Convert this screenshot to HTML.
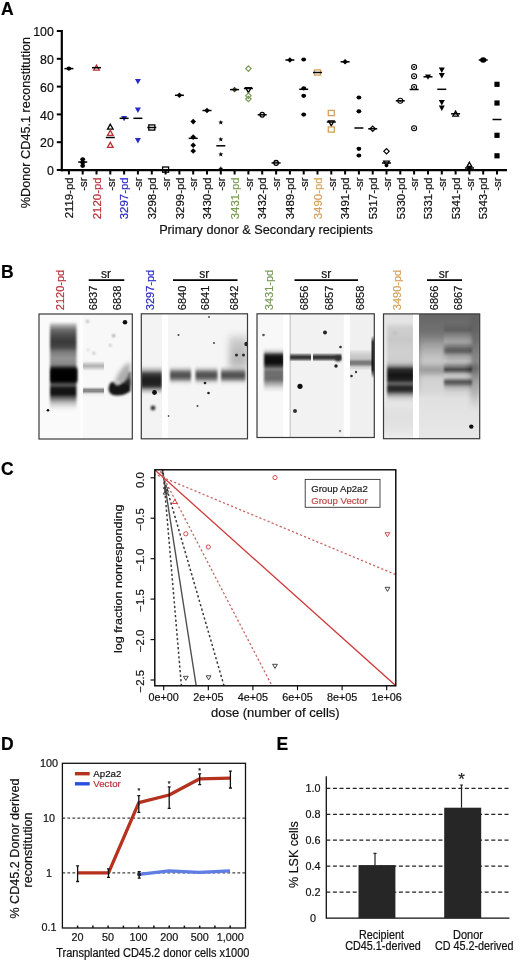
<!DOCTYPE html>
<html><head><meta charset="utf-8"><style>
html,body{margin:0;padding:0;background:#fff;}
svg{display:block;filter:blur(0.35px);}
text{font-family:"Liberation Sans", sans-serif;}
</style></head><body>
<svg width="520" height="962" viewBox="0 0 520 962" font-family='"Liberation Sans", sans-serif'>
<rect width="520" height="962" fill="#fff"/>
<text x="1" y="14.8" font-size="17.5" font-weight="bold" stroke="#000" stroke-width="0.2">A</text>
<text x="0.9" y="277.9" font-size="17.5" font-weight="bold" stroke="#000" stroke-width="0.2">B</text>
<text x="1" y="475.2" font-size="17.5" font-weight="bold" stroke="#000" stroke-width="0.2">C</text>
<text x="1" y="750.4" font-size="17.5" font-weight="bold" stroke="#000" stroke-width="0.2">D</text>
<text x="276.6" y="750.4" font-size="17.5" font-weight="bold" stroke="#000" stroke-width="0.2">E</text>
<g stroke="#000" stroke-width="2.2" fill="none">
<path d="M61.8 30 V171.3"/>
<path d="M60.7 170.2 H507"/>
</g>
<g stroke="#000" stroke-width="2" fill="none">
<path d="M56.8 170.0 H61"/>
<path d="M56.8 142.2 H61"/>
<path d="M56.8 114.4 H61"/>
<path d="M56.8 86.6 H61"/>
<path d="M56.8 58.8 H61"/>
<path d="M56.8 31.0 H61"/>
<path d="M68.9 170 V174.5"/>
<path d="M82.7 170 V174.5"/>
<path d="M96.5 170 V174.5"/>
<path d="M110.3 170 V174.5"/>
<path d="M124.1 170 V174.5"/>
<path d="M137.9 170 V174.5"/>
<path d="M151.8 170 V174.5"/>
<path d="M165.6 170 V174.5"/>
<path d="M179.4 170 V174.5"/>
<path d="M193.2 170 V174.5"/>
<path d="M207.0 170 V174.5"/>
<path d="M220.8 170 V174.5"/>
<path d="M234.6 170 V174.5"/>
<path d="M248.4 170 V174.5"/>
<path d="M262.2 170 V174.5"/>
<path d="M276.1 170 V174.5"/>
<path d="M289.9 170 V174.5"/>
<path d="M303.7 170 V174.5"/>
<path d="M317.5 170 V174.5"/>
<path d="M331.3 170 V174.5"/>
<path d="M345.1 170 V174.5"/>
<path d="M358.9 170 V174.5"/>
<path d="M372.7 170 V174.5"/>
<path d="M386.5 170 V174.5"/>
<path d="M400.3 170 V174.5"/>
<path d="M414.1 170 V174.5"/>
<path d="M428.0 170 V174.5"/>
<path d="M441.8 170 V174.5"/>
<path d="M455.6 170 V174.5"/>
<path d="M469.4 170 V174.5"/>
<path d="M483.2 170 V174.5"/>
<path d="M497.0 170 V174.5"/>
</g>
<g font-size="12.3" text-anchor="end" fill="#111">
<text x="53.8" y="175.2" stroke="#000" stroke-width="0.2">0</text>
<text x="53.8" y="147.4" stroke="#000" stroke-width="0.2">20</text>
<text x="53.8" y="119.6" stroke="#000" stroke-width="0.2">40</text>
<text x="53.8" y="91.8" stroke="#000" stroke-width="0.2">60</text>
<text x="53.8" y="64.0" stroke="#000" stroke-width="0.2">80</text>
<text x="53.8" y="36.2" stroke="#000" stroke-width="0.2">100</text>
</g>
<text transform="translate(30,122.6) rotate(-90)" font-size="12.7" text-anchor="middle" fill="#111" stroke="#111" stroke-width="0.2">%Donor CD45.1 reconstitution</text>
<g font-size="11.4">
<text transform="translate(73.1,177.4) rotate(-90)" text-anchor="end" fill="#111" stroke="#111" stroke-width="0.2">2119-pd</text>
<text transform="translate(86.9,177.4) rotate(-90)" text-anchor="end" fill="#111" stroke="#111" stroke-width="0.2">-sr</text>
<text transform="translate(100.7,177.4) rotate(-90)" text-anchor="end" fill="#b8323a" stroke="#b8323a" stroke-width="0.2">2120-pd</text>
<text transform="translate(114.5,177.4) rotate(-90)" text-anchor="end" fill="#111" stroke="#111" stroke-width="0.2">-sr</text>
<text transform="translate(128.3,177.4) rotate(-90)" text-anchor="end" fill="#2a2ac4" stroke="#2a2ac4" stroke-width="0.2">3297-pd</text>
<text transform="translate(142.1,177.4) rotate(-90)" text-anchor="end" fill="#111" stroke="#111" stroke-width="0.2">-sr</text>
<text transform="translate(156.0,177.4) rotate(-90)" text-anchor="end" fill="#111" stroke="#111" stroke-width="0.2">3298-pd</text>
<text transform="translate(169.8,177.4) rotate(-90)" text-anchor="end" fill="#111" stroke="#111" stroke-width="0.2">-sr</text>
<text transform="translate(183.6,177.4) rotate(-90)" text-anchor="end" fill="#111" stroke="#111" stroke-width="0.2">3299-pd</text>
<text transform="translate(197.4,177.4) rotate(-90)" text-anchor="end" fill="#111" stroke="#111" stroke-width="0.2">-sr</text>
<text transform="translate(211.2,177.4) rotate(-90)" text-anchor="end" fill="#111" stroke="#111" stroke-width="0.2">3430-pd</text>
<text transform="translate(225.0,177.4) rotate(-90)" text-anchor="end" fill="#111" stroke="#111" stroke-width="0.2">-sr</text>
<text transform="translate(238.8,177.4) rotate(-90)" text-anchor="end" fill="#7a9a56" stroke="#7a9a56" stroke-width="0.2">3431-pd</text>
<text transform="translate(252.6,177.4) rotate(-90)" text-anchor="end" fill="#111" stroke="#111" stroke-width="0.2">-sr</text>
<text transform="translate(266.4,177.4) rotate(-90)" text-anchor="end" fill="#111" stroke="#111" stroke-width="0.2">3432-pd</text>
<text transform="translate(280.2,177.4) rotate(-90)" text-anchor="end" fill="#111" stroke="#111" stroke-width="0.2">-sr</text>
<text transform="translate(294.1,177.4) rotate(-90)" text-anchor="end" fill="#111" stroke="#111" stroke-width="0.2">3489-pd</text>
<text transform="translate(307.9,177.4) rotate(-90)" text-anchor="end" fill="#111" stroke="#111" stroke-width="0.2">-sr</text>
<text transform="translate(321.7,177.4) rotate(-90)" text-anchor="end" fill="#d6a05c" stroke="#d6a05c" stroke-width="0.2">3490-pd</text>
<text transform="translate(335.5,177.4) rotate(-90)" text-anchor="end" fill="#111" stroke="#111" stroke-width="0.2">-sr</text>
<text transform="translate(349.3,177.4) rotate(-90)" text-anchor="end" fill="#111" stroke="#111" stroke-width="0.2">3491-pd</text>
<text transform="translate(363.1,177.4) rotate(-90)" text-anchor="end" fill="#111" stroke="#111" stroke-width="0.2">-sr</text>
<text transform="translate(376.9,177.4) rotate(-90)" text-anchor="end" fill="#111" stroke="#111" stroke-width="0.2">5317-pd</text>
<text transform="translate(390.7,177.4) rotate(-90)" text-anchor="end" fill="#111" stroke="#111" stroke-width="0.2">-sr</text>
<text transform="translate(404.5,177.4) rotate(-90)" text-anchor="end" fill="#111" stroke="#111" stroke-width="0.2">5330-pd</text>
<text transform="translate(418.3,177.4) rotate(-90)" text-anchor="end" fill="#111" stroke="#111" stroke-width="0.2">-sr</text>
<text transform="translate(432.2,177.4) rotate(-90)" text-anchor="end" fill="#111" stroke="#111" stroke-width="0.2">5331-pd</text>
<text transform="translate(446.0,177.4) rotate(-90)" text-anchor="end" fill="#111" stroke="#111" stroke-width="0.2">-sr</text>
<text transform="translate(459.8,177.4) rotate(-90)" text-anchor="end" fill="#111" stroke="#111" stroke-width="0.2">5341-pd</text>
<text transform="translate(473.6,177.4) rotate(-90)" text-anchor="end" fill="#111" stroke="#111" stroke-width="0.2">-sr</text>
<text transform="translate(487.4,177.4) rotate(-90)" text-anchor="end" fill="#111" stroke="#111" stroke-width="0.2">5343-pd</text>
<text transform="translate(501.2,177.4) rotate(-90)" text-anchor="end" fill="#111" stroke="#111" stroke-width="0.2">-sr</text>
</g>
<text x="266" y="234.1" font-size="12.7" text-anchor="middle" fill="#111" stroke="#111" stroke-width="0.2">Primary donor &amp; Secondary recipients</text>
<g>
<ellipse cx="68.9" cy="68.6" rx="2.4" ry="2.1" fill="#000"/>
<path d="M64.4 68.6 H73.4" stroke="#000" stroke-width="1.5"/>
<ellipse cx="82.7" cy="159.3" rx="2.4" ry="2.1" fill="#000"/>
<ellipse cx="82.7" cy="162.5" rx="2.4" ry="2.1" fill="#000"/>
<ellipse cx="82.7" cy="165.8" rx="2.4" ry="2.1" fill="#000"/>
<path d="M78.2 162.0 H87.2" stroke="#000" stroke-width="1.5"/>
<path d="M96.5 65.1 L99.3 70.1 L93.7 70.1Z" fill="none" stroke="#b8323a" stroke-width="1.3"/>
<path d="M92.0 67.7 H101.0" stroke="#000" stroke-width="1.5"/>
<path d="M105.8 137.5 H114.8" stroke="#000" stroke-width="1.5"/>
<path d="M124.1 121.3 L127.1 115.9 L121.1 115.9Z" fill="#2a2ac4"/>
<path d="M119.6 118.3 H128.6" stroke="#000" stroke-width="1.5"/>
<path d="M137.9 84.3 L140.9 78.9 L134.9 78.9Z" fill="#2a2ac4"/>
<path d="M137.9 113.0 L140.9 107.6 L134.9 107.6Z" fill="#2a2ac4"/>
<path d="M137.9 143.5 L140.9 138.1 L134.9 138.1Z" fill="#2a2ac4"/>
<path d="M133.4 118.3 H142.4" stroke="#000" stroke-width="1.5"/>
<rect x="148.8" y="124.9" width="6" height="5.2" fill="none" stroke="#000" stroke-width="1.3"/>
<path d="M147.3 127.5 H156.3" stroke="#000" stroke-width="1.5"/>
<rect x="162.6" y="167.0" width="6" height="5.2" fill="none" stroke="#000" stroke-width="1.3"/>
<path d="M161.1 169.8 H170.1" stroke="#000" stroke-width="1.5"/>
<path d="M179.4 92.5 L182.2 95.3 L179.4 98.1 L176.6 95.3Z" fill="#000"/>
<path d="M174.9 95.3 H183.9" stroke="#000" stroke-width="1.5"/>
<path d="M193.2 118.8 L196.0 121.6 L193.2 124.4 L190.4 121.6Z" fill="#000"/>
<path d="M193.2 134.3 L196.0 137.1 L193.2 139.9 L190.4 137.1Z" fill="#000"/>
<path d="M193.2 142.4 L196.0 145.2 L193.2 148.0 L190.4 145.2Z" fill="#000"/>
<path d="M193.2 148.2 L196.0 151.0 L193.2 153.8 L190.4 151.0Z" fill="#000"/>
<path d="M188.7 138.3 H197.7" stroke="#000" stroke-width="1.5"/>
<path d="M207.0 107.7 L209.8 110.5 L207.0 113.3 L204.2 110.5Z" fill="#000"/>
<path d="M202.5 110.5 H211.5" stroke="#000" stroke-width="1.5"/>
<polygon points="220.81,119.90 221.46,121.61 223.28,121.70 221.86,122.84 222.34,124.60 220.81,123.60 219.28,124.60 219.76,122.84 218.34,121.70 220.16,121.61" fill="#000"/>
<polygon points="220.81,136.70 221.46,138.41 223.28,138.50 221.86,139.64 222.34,141.40 220.81,140.40 219.28,141.40 219.76,139.64 218.34,138.50 220.16,138.41" fill="#000"/>
<polygon points="220.81,151.70 221.46,153.41 223.28,153.50 221.86,154.64 222.34,156.40 220.81,155.40 219.28,156.40 219.76,154.64 218.34,153.50 220.16,153.41" fill="#000"/>
<polygon points="220.81,166.10 221.46,167.81 223.28,167.90 221.86,169.04 222.34,170.80 220.81,169.80 219.28,170.80 219.76,169.04 218.34,167.90 220.16,167.81" fill="#000"/>
<path d="M216.3 145.8 H225.3" stroke="#000" stroke-width="1.5"/>
<path d="M234.6 86.8 L237.4 89.6 L234.6 92.4 L231.8 89.6Z" fill="#3d4a1c"/>
<path d="M230.1 89.6 H239.1" stroke="#000" stroke-width="1.5"/>
<path d="M243.9 88.5 H252.9" stroke="#000" stroke-width="1.5"/>
<ellipse cx="262.2" cy="114.8" rx="2.2" ry="2.4" fill="none" stroke="#000" stroke-width="1.3"/>
<path d="M257.7 114.8 H266.7" stroke="#000" stroke-width="1.5"/>
<ellipse cx="276.1" cy="162.9" rx="2.2" ry="2.4" fill="none" stroke="#000" stroke-width="1.3"/>
<path d="M271.6 162.9 H280.6" stroke="#000" stroke-width="1.5"/>
<path d="M289.9 57.2 L292.7 60.0 L289.9 62.8 L287.1 60.0Z" fill="#000"/>
<path d="M285.4 60.0 H294.4" stroke="#000" stroke-width="1.5"/>
<ellipse cx="303.7" cy="59.5" rx="2.4" ry="2.1" fill="#000"/>
<ellipse cx="303.7" cy="88.3" rx="2.4" ry="2.1" fill="#000"/>
<ellipse cx="303.7" cy="95.8" rx="2.4" ry="2.1" fill="#000"/>
<ellipse cx="303.7" cy="114.6" rx="2.4" ry="2.1" fill="#000"/>
<path d="M299.2 89.3 H308.2" stroke="#000" stroke-width="1.5"/>
<rect x="314.5" y="69.9" width="6" height="5.2" fill="none" stroke="#d6a05c" stroke-width="1.3"/>
<path d="M313.0 72.5 H322.0" stroke="#000" stroke-width="1.5"/>
<path d="M326.8 122.0 H335.8" stroke="#000" stroke-width="1.5"/>
<path d="M345.1 59.0 L347.9 61.8 L345.1 64.6 L342.3 61.8Z" fill="#000"/>
<path d="M340.6 61.8 H349.6" stroke="#000" stroke-width="1.5"/>
<ellipse cx="358.9" cy="97.5" rx="2.4" ry="2.1" fill="#000"/>
<ellipse cx="358.9" cy="111.3" rx="2.4" ry="2.1" fill="#000"/>
<ellipse cx="358.9" cy="148.8" rx="2.4" ry="2.1" fill="#000"/>
<ellipse cx="358.9" cy="155.5" rx="2.4" ry="2.1" fill="#000"/>
<path d="M354.4 128.0 H363.4" stroke="#000" stroke-width="1.5"/>
<path d="M372.7 126.1 L375.4 128.8 L372.7 131.5 L370.0 128.8Z" fill="none" stroke="#000" stroke-width="1.2"/>
<path d="M368.2 128.8 H377.2" stroke="#000" stroke-width="1.5"/>
<path d="M382.0 163.0 H391.0" stroke="#000" stroke-width="1.5"/>
<circle cx="400.3" cy="100.8" r="2.5" fill="none" stroke="#000" stroke-width="1.1"/><circle cx="400.3" cy="100.8" r="0.9" fill="#000"/>
<path d="M395.8 100.8 H404.8" stroke="#000" stroke-width="1.5"/>
<circle cx="414.1" cy="67.0" r="2.5" fill="none" stroke="#000" stroke-width="1.1"/><circle cx="414.1" cy="67.0" r="0.9" fill="#000"/>
<circle cx="414.1" cy="76.3" r="2.5" fill="none" stroke="#000" stroke-width="1.1"/><circle cx="414.1" cy="76.3" r="0.9" fill="#000"/>
<circle cx="414.1" cy="87.0" r="2.5" fill="none" stroke="#000" stroke-width="1.1"/><circle cx="414.1" cy="87.0" r="0.9" fill="#000"/>
<circle cx="414.1" cy="128.3" r="2.5" fill="none" stroke="#000" stroke-width="1.1"/><circle cx="414.1" cy="128.3" r="0.9" fill="#000"/>
<path d="M409.6 89.5 H418.6" stroke="#000" stroke-width="1.5"/>
<path d="M428.0 79.8 L431.0 74.4 L425.0 74.4Z" fill="#000"/>
<path d="M423.5 76.8 H432.5" stroke="#000" stroke-width="1.5"/>
<path d="M441.8 73.0 L444.8 67.6 L438.8 67.6Z" fill="#000"/>
<path d="M441.8 78.5 L444.8 73.1 L438.8 73.1Z" fill="#000"/>
<path d="M441.8 105.5 L444.8 100.1 L438.8 100.1Z" fill="#000"/>
<path d="M441.8 111.0 L444.8 105.6 L438.8 105.6Z" fill="#000"/>
<path d="M437.3 89.3 H446.3" stroke="#000" stroke-width="1.5"/>
<path d="M455.6 111.1 L458.4 116.1 L452.8 116.1Z" fill="none" stroke="#000" stroke-width="1.3"/>
<path d="M451.1 113.8 H460.1" stroke="#000" stroke-width="1.5"/>
<path d="M464.9 168.0 H473.9" stroke="#000" stroke-width="1.5"/>
<ellipse cx="483.2" cy="60.0" rx="2.4" ry="2.1" fill="#000"/>
<path d="M478.7 60.0 H487.7" stroke="#000" stroke-width="1.5"/>
<rect x="494.4" y="81.7" width="5.2" height="5.2" fill="#000"/>
<rect x="494.4" y="100.4" width="5.2" height="5.2" fill="#000"/>
<rect x="494.4" y="132.7" width="5.2" height="5.2" fill="#000"/>
<rect x="494.4" y="153.2" width="5.2" height="5.2" fill="#000"/>
<path d="M492.5 119.5 H501.5" stroke="#000" stroke-width="1.5"/>
<path d="M110.3 124.2 L113.1 129.2 L107.5 129.2Z" fill="none" stroke="#000" stroke-width="1.3"/>
<path d="M110.3 130.4 L113.1 135.4 L107.5 135.4Z" fill="none" stroke="#b8323a" stroke-width="1.3"/>
<path d="M110.3 142.4 L113.1 147.4 L107.5 147.4Z" fill="none" stroke="#b8323a" stroke-width="1.3"/>
<path d="M248.4 65.9 L251.1 68.6 L248.4 71.3 L245.7 68.6Z" fill="none" stroke="#7a9a56" stroke-width="1.2"/>
<path d="M248.4 92.6 L251.2 87.6 L245.6 87.6Z" fill="none" stroke="#000" stroke-width="1.3"/>
<path d="M248.4 93.1 L251.1 95.8 L248.4 98.5 L245.7 95.8Z" fill="none" stroke="#7a9a56" stroke-width="1.2"/>
<path d="M248.4 96.3 L251.1 99.0 L248.4 101.7 L245.7 99.0Z" fill="none" stroke="#7a9a56" stroke-width="1.2"/>
<rect x="328.3" y="110.4" width="6" height="5.2" fill="none" stroke="#d6a05c" stroke-width="1.3"/>
<path d="M331.3 125.8 L334.1 120.8 L328.5 120.8Z" fill="none" stroke="#000" stroke-width="1.3"/>
<rect x="328.3" y="126.9" width="6" height="5.2" fill="none" stroke="#d6a05c" stroke-width="1.3"/>
<path d="M386.5 148.6 L389.2 151.3 L386.5 154.0 L383.8 151.3Z" fill="none" stroke="#000" stroke-width="1.2"/>
<path d="M386.5 166.1 L389.3 161.1 L383.7 161.1Z" fill="none" stroke="#000" stroke-width="1.3"/>
<ellipse cx="386.5" cy="165.5" rx="1.9" ry="1.7" fill="#000"/>
<ellipse cx="483.2" cy="60.0" rx="3.1" ry="2.7" fill="#000"/>
<path d="M469.4 162.2 L471.8 166.5 L467.0 166.5Z" fill="none" stroke="#000" stroke-width="1.3"/>
<ellipse cx="469.4" cy="168.6" rx="2.2" ry="1.9" fill="#000"/>
</g>
<defs><filter id="b1" x="-50%" y="-50%" width="200%" height="200%"><feGaussianBlur stdDeviation="1.2"/></filter><filter id="b2" x="-50%" y="-50%" width="200%" height="200%"><feGaussianBlur stdDeviation="2"/></filter><filter id="b3" x="-50%" y="-50%" width="200%" height="200%"><feGaussianBlur stdDeviation="3"/></filter><filter id="b05" x="-50%" y="-50%" width="200%" height="200%"><feGaussianBlur stdDeviation="0.6"/></filter></defs>
<defs><clipPath id="cb0"><rect x="39" y="314" width="93.30000000000001" height="125"/></clipPath></defs>
<defs><clipPath id="cb1"><rect x="141.3" y="313.8" width="106.19999999999999" height="125.0"/></clipPath></defs>
<defs><clipPath id="cb2"><rect x="257" y="313.8" width="117.30000000000001" height="123.69999999999999"/></clipPath></defs>
<defs><clipPath id="cb3"><rect x="383.5" y="313.9" width="96.19999999999999" height="124.80000000000001"/></clipPath></defs>
<g clip-path="url(#cb0)">
<rect x="39" y="314" width="41" height="125" fill="#fafafa"/>
<rect x="82.5" y="314" width="51" height="125" fill="#f8f8f8"/>
<defs><linearGradient id="g1" gradientUnits="userSpaceOnUse" x1="0" y1="322" x2="0" y2="412"><stop offset="0.0000" stop-color="#000" stop-opacity="0.000"/><stop offset="0.0333" stop-color="#000" stop-opacity="0.290"/><stop offset="0.0889" stop-color="#000" stop-opacity="0.573"/><stop offset="0.1556" stop-color="#000" stop-opacity="0.702"/><stop offset="0.2222" stop-color="#000" stop-opacity="0.774"/><stop offset="0.2778" stop-color="#000" stop-opacity="0.726"/><stop offset="0.3333" stop-color="#000" stop-opacity="0.508"/><stop offset="0.4000" stop-color="#000" stop-opacity="0.411"/><stop offset="0.4667" stop-color="#000" stop-opacity="0.444"/><stop offset="0.5111" stop-color="#000" stop-opacity="0.726"/><stop offset="0.5444" stop-color="#000" stop-opacity="0.960"/><stop offset="0.6444" stop-color="#000" stop-opacity="0.960"/><stop offset="0.6833" stop-color="#000" stop-opacity="0.702"/><stop offset="0.7056" stop-color="#000" stop-opacity="0.637"/><stop offset="0.7333" stop-color="#000" stop-opacity="0.915"/><stop offset="0.8000" stop-color="#000" stop-opacity="0.935"/><stop offset="0.8444" stop-color="#000" stop-opacity="0.573"/><stop offset="0.9000" stop-color="#000" stop-opacity="0.226"/><stop offset="0.9556" stop-color="#000" stop-opacity="0.040"/><stop offset="1.0000" stop-color="#000" stop-opacity="0.000"/></linearGradient></defs>
<rect x="50" y="322" width="26.5" height="90" fill="url(#g1)" filter="url(#b1)"/>
<defs><linearGradient id="g2" gradientUnits="userSpaceOnUse" x1="0" y1="366" x2="0" y2="384"><stop offset="0.0000" stop-color="#000" stop-opacity="0.000"/><stop offset="0.2222" stop-color="#000" stop-opacity="0.863"/><stop offset="0.7778" stop-color="#000" stop-opacity="0.863"/><stop offset="1.0000" stop-color="#000" stop-opacity="0.000"/></linearGradient></defs>
<rect x="51" y="366" width="26.5" height="18" fill="url(#g2)" filter="url(#b1)"/>
<defs><linearGradient id="g3" gradientUnits="userSpaceOnUse" x1="0" y1="361" x2="0" y2="397"><stop offset="0.0000" stop-color="#000" stop-opacity="0.000"/><stop offset="0.0833" stop-color="#000" stop-opacity="0.194"/><stop offset="0.1389" stop-color="#000" stop-opacity="0.290"/><stop offset="0.1944" stop-color="#000" stop-opacity="0.177"/><stop offset="0.2778" stop-color="#000" stop-opacity="0.000"/><stop offset="0.7222" stop-color="#000" stop-opacity="0.000"/><stop offset="0.7917" stop-color="#000" stop-opacity="0.444"/><stop offset="0.8472" stop-color="#000" stop-opacity="0.452"/><stop offset="0.9167" stop-color="#000" stop-opacity="0.048"/><stop offset="1.0000" stop-color="#000" stop-opacity="0.000"/></linearGradient></defs>
<rect x="83" y="361" width="21" height="36" fill="url(#g3)" filter="url(#b05)"/>
<path d="M114 384 L118 374 L124 366 L130 362 L131 388 L118 388 Z" fill="#000" fill-opacity="0.3" filter="url(#b2)"/>
<path d="M108.5 389 Q109 383 112 382 Q117 384 121 384 Q126 382 129.5 378 L130.5 391 Q124 396 116 395.5 Q109 395 108.5 389 Z" fill="#181818" filter="url(#b1)"/>
<ellipse cx="117.5" cy="383.5" rx="3" ry="2.2" fill="#fff" fill-opacity="0.55" filter="url(#b1)"/>
<path d="M124 384 Q127 378 129 372 L131 372 L131 386 Z" fill="#333" fill-opacity="0.6" filter="url(#b1)"/>
<circle cx="125" cy="322.3" r="2.3" fill="#111" filter="url(#b05)"/>
<circle cx="48" cy="410.2" r="1.3" fill="#111" filter="url(#b05)"/>
<circle cx="113.6" cy="335.8" r="1.3" fill="#777" filter="url(#b1)"/>
<circle cx="110.2" cy="345.3" r="1.1" fill="#999" filter="url(#b1)"/>
<circle cx="87.4" cy="321.5" r="1.4" fill="#aaa" filter="url(#b1)"/>
<circle cx="93.8" cy="353.2" r="1.4" fill="#bbb" filter="url(#b1)"/>
<circle cx="88" cy="350" r="1.2" fill="#ccc" filter="url(#b1)"/>
</g>
<rect x="80" y="314" width="2.5" height="125" fill="#fdfdfd"/>
<g clip-path="url(#cb1)">
<rect x="141" y="313" width="21" height="126" fill="#f3f3f3"/>
<rect x="167.5" y="313" width="81" height="126" fill="#f5f5f5"/>
<defs><linearGradient id="g4" gradientUnits="userSpaceOnUse" x1="0" y1="366" x2="0" y2="394"><stop offset="0.0000" stop-color="#000" stop-opacity="0.020"/><stop offset="0.1429" stop-color="#000" stop-opacity="0.246"/><stop offset="0.2857" stop-color="#000" stop-opacity="0.758"/><stop offset="0.5000" stop-color="#000" stop-opacity="0.895"/><stop offset="0.7143" stop-color="#000" stop-opacity="0.831"/><stop offset="0.8571" stop-color="#000" stop-opacity="0.270"/><stop offset="1.0000" stop-color="#000" stop-opacity="0.020"/></linearGradient></defs>
<rect x="141" y="366" width="21" height="28" fill="url(#g4)" filter="url(#b1)"/>
<circle cx="154.5" cy="392.5" r="2.4" fill="#111" filter="url(#b05)"/>
<circle cx="153" cy="408" r="2.4" fill="#333" filter="url(#b1)"/>
<defs><linearGradient id="g5" gradientUnits="userSpaceOnUse" x1="0" y1="366" x2="0" y2="385"><stop offset="0.0000" stop-color="#000" stop-opacity="0.012"/><stop offset="0.1579" stop-color="#000" stop-opacity="0.165"/><stop offset="0.3158" stop-color="#000" stop-opacity="0.565"/><stop offset="0.5000" stop-color="#000" stop-opacity="0.702"/><stop offset="0.6842" stop-color="#000" stop-opacity="0.520"/><stop offset="0.8421" stop-color="#000" stop-opacity="0.113"/><stop offset="1.0000" stop-color="#000" stop-opacity="0.012"/></linearGradient></defs>
<rect x="170" y="366" width="21" height="19" fill="url(#g5)" filter="url(#b1)"/>
<defs><linearGradient id="g6" gradientUnits="userSpaceOnUse" x1="0" y1="366" x2="0" y2="385"><stop offset="0.0000" stop-color="#000" stop-opacity="0.012"/><stop offset="0.1579" stop-color="#000" stop-opacity="0.165"/><stop offset="0.3158" stop-color="#000" stop-opacity="0.565"/><stop offset="0.5000" stop-color="#000" stop-opacity="0.702"/><stop offset="0.6842" stop-color="#000" stop-opacity="0.520"/><stop offset="0.8421" stop-color="#000" stop-opacity="0.113"/><stop offset="1.0000" stop-color="#000" stop-opacity="0.012"/></linearGradient></defs>
<rect x="195.5" y="366" width="22.0" height="19" fill="url(#g6)" filter="url(#b1)"/>
<defs><linearGradient id="g7" gradientUnits="userSpaceOnUse" x1="0" y1="366" x2="0" y2="385"><stop offset="0.0000" stop-color="#000" stop-opacity="0.012"/><stop offset="0.1579" stop-color="#000" stop-opacity="0.165"/><stop offset="0.3158" stop-color="#000" stop-opacity="0.565"/><stop offset="0.5000" stop-color="#000" stop-opacity="0.702"/><stop offset="0.6842" stop-color="#000" stop-opacity="0.520"/><stop offset="0.8421" stop-color="#000" stop-opacity="0.113"/><stop offset="1.0000" stop-color="#000" stop-opacity="0.012"/></linearGradient></defs>
<rect x="221" y="366" width="24.5" height="19" fill="url(#g7)" filter="url(#b1)"/>
<defs><linearGradient id="g8" gradientUnits="userSpaceOnUse" x1="0" y1="333" x2="0" y2="369"><stop offset="0.0000" stop-color="#000" stop-opacity="0.012"/><stop offset="0.1944" stop-color="#000" stop-opacity="0.161"/><stop offset="0.5278" stop-color="#000" stop-opacity="0.226"/><stop offset="0.9167" stop-color="#000" stop-opacity="0.246"/><stop offset="1.0000" stop-color="#000" stop-opacity="0.012"/></linearGradient></defs>
<rect x="229" y="333" width="19" height="36" fill="url(#g8)" filter="url(#b3)"/>
<circle cx="236.5" cy="355" r="1.6" fill="#333" filter="url(#b05)"/>
<circle cx="243.5" cy="355" r="1.6" fill="#333" filter="url(#b05)"/>
<circle cx="246.5" cy="344" r="2.2" fill="#222" filter="url(#b05)"/>
<circle cx="178.5" cy="335" r="1" fill="#444" filter="url(#b05)"/>
<circle cx="214" cy="343" r="1" fill="#444" filter="url(#b05)"/>
<circle cx="205" cy="383" r="1.3" fill="#222" filter="url(#b05)"/>
<circle cx="208.5" cy="393" r="1.3" fill="#222" filter="url(#b05)"/>
<circle cx="197.5" cy="406" r="1" fill="#444" filter="url(#b05)"/>
<circle cx="168.5" cy="416" r="0.9" fill="#555" filter="url(#b05)"/>
<circle cx="209" cy="317" r="1" fill="#555" filter="url(#b05)"/>
</g>
<rect x="162" y="314" width="5.5" height="124.5" fill="#fff"/>
<g clip-path="url(#cb2)">
<rect x="257" y="313" width="27" height="126" fill="#f8f8f8"/>
<rect x="289.5" y="313" width="55" height="126" fill="#f2f2f2"/>
<rect x="350" y="313" width="25" height="126" fill="#f0f0f0"/>
<defs><linearGradient id="g9" gradientUnits="userSpaceOnUse" x1="0" y1="348" x2="0" y2="392"><stop offset="0.0000" stop-color="#000" stop-opacity="0.000"/><stop offset="0.0909" stop-color="#000" stop-opacity="0.194"/><stop offset="0.1477" stop-color="#000" stop-opacity="0.794"/><stop offset="0.2045" stop-color="#000" stop-opacity="0.931"/><stop offset="0.3409" stop-color="#000" stop-opacity="0.952"/><stop offset="0.4205" stop-color="#000" stop-opacity="0.726"/><stop offset="0.4773" stop-color="#000" stop-opacity="0.435"/><stop offset="0.5455" stop-color="#000" stop-opacity="0.573"/><stop offset="0.6364" stop-color="#000" stop-opacity="0.548"/><stop offset="0.7045" stop-color="#000" stop-opacity="0.589"/><stop offset="0.7955" stop-color="#000" stop-opacity="0.355"/><stop offset="0.9091" stop-color="#000" stop-opacity="0.097"/><stop offset="1.0000" stop-color="#000" stop-opacity="0.000"/></linearGradient></defs>
<rect x="264" y="348" width="20" height="44" fill="url(#g9)" filter="url(#b1)"/>
<defs><linearGradient id="g10" gradientUnits="userSpaceOnUse" x1="0" y1="353" x2="0" y2="361.5"><stop offset="0.0000" stop-color="#000" stop-opacity="0.024"/><stop offset="0.2353" stop-color="#000" stop-opacity="0.520"/><stop offset="0.4706" stop-color="#000" stop-opacity="0.831"/><stop offset="0.7059" stop-color="#000" stop-opacity="0.657"/><stop offset="1.0000" stop-color="#000" stop-opacity="0.024"/></linearGradient></defs>
<rect x="289.5" y="353" width="21.5" height="8.5" fill="url(#g10)" filter="url(#b05)"/>
<defs><linearGradient id="g11" gradientUnits="userSpaceOnUse" x1="0" y1="353" x2="0" y2="361.5"><stop offset="0.0000" stop-color="#000" stop-opacity="0.024"/><stop offset="0.2353" stop-color="#000" stop-opacity="0.520"/><stop offset="0.4706" stop-color="#000" stop-opacity="0.831"/><stop offset="0.7059" stop-color="#000" stop-opacity="0.657"/><stop offset="1.0000" stop-color="#000" stop-opacity="0.024"/></linearGradient></defs>
<rect x="313" y="353" width="28.5" height="8.5" fill="url(#g11)" filter="url(#b05)"/>
<ellipse cx="338" cy="358.5" rx="3" ry="3" fill="#333" filter="url(#b1)"/>
<path d="M290 314 V437" stroke="#999" stroke-width="0.8"/>
<defs><linearGradient id="g12" gradientUnits="userSpaceOnUse" x1="0" y1="350" x2="0" y2="370"><stop offset="0.0000" stop-color="#000" stop-opacity="0.032"/><stop offset="0.2000" stop-color="#000" stop-opacity="0.129"/><stop offset="0.4500" stop-color="#000" stop-opacity="0.194"/><stop offset="0.6000" stop-color="#000" stop-opacity="0.520"/><stop offset="0.7250" stop-color="#000" stop-opacity="0.452"/><stop offset="0.8500" stop-color="#000" stop-opacity="0.129"/><stop offset="1.0000" stop-color="#000" stop-opacity="0.032"/></linearGradient></defs>
<rect x="350" y="350" width="23" height="20" fill="url(#g12)" filter="url(#b05)"/>
<path d="M350.6 352 V378" stroke="#555" stroke-width="1" filter="url(#b05)"/>
<defs><linearGradient id="g13" gradientUnits="userSpaceOnUse" x1="0" y1="336" x2="0" y2="378"><stop offset="0.0000" stop-color="#000" stop-opacity="0.032"/><stop offset="0.1429" stop-color="#000" stop-opacity="0.794"/><stop offset="0.8095" stop-color="#000" stop-opacity="0.863"/><stop offset="1.0000" stop-color="#000" stop-opacity="0.032"/></linearGradient></defs>
<rect x="371.5" y="336" width="3.5" height="42" fill="url(#g13)" filter="url(#b05)"/>
<circle cx="300" cy="386.3" r="2.6" fill="#111" filter="url(#b05)"/>
<circle cx="295" cy="411" r="2.0" fill="#333" filter="url(#b05)"/>
<circle cx="325" cy="332.5" r="2.0" fill="#222" filter="url(#b05)"/>
<circle cx="336" cy="366" r="1.7" fill="#222" filter="url(#b05)"/>
<circle cx="340.5" cy="347" r="1.3" fill="#333" filter="url(#b05)"/>
<circle cx="263.5" cy="335" r="1.3" fill="#555" filter="url(#b05)"/>
<circle cx="351.5" cy="376" r="1.3" fill="#333" filter="url(#b05)"/>
<circle cx="356" cy="372" r="1.2" fill="#444" filter="url(#b05)"/>
<circle cx="340" cy="431" r="1.2" fill="#888" filter="url(#b05)"/>
</g>
<rect x="283.3" y="313.8" width="6.2" height="123.7" fill="#fff"/>
<rect x="343.8" y="313.8" width="6.2" height="123.7" fill="#fff"/>
<g clip-path="url(#cb3)">
<rect x="383" y="313" width="31" height="126" fill="#ebebeb"/>
<defs><linearGradient id="g14" gradientUnits="userSpaceOnUse" x1="0" y1="313" x2="0" y2="439"><stop offset="0.0000" stop-color="#000" stop-opacity="0.03"/><stop offset="0.2143" stop-color="#000" stop-opacity="0.02"/><stop offset="0.6905" stop-color="#000" stop-opacity="0"/><stop offset="1.0000" stop-color="#fff" stop-opacity="0.2"/></linearGradient></defs>
<rect x="384" y="313" width="30" height="126" fill="url(#g14)"/>
<defs><linearGradient id="g15" gradientUnits="userSpaceOnUse" x1="0" y1="322" x2="0" y2="404"><stop offset="0.0000" stop-color="#000" stop-opacity="0"/><stop offset="0.0732" stop-color="#000" stop-opacity="0.1"/><stop offset="0.2195" stop-color="#000" stop-opacity="0.13"/><stop offset="0.3659" stop-color="#000" stop-opacity="0.1"/><stop offset="0.4878" stop-color="#000" stop-opacity="0.12"/><stop offset="0.5366" stop-color="#000" stop-opacity="0.35"/><stop offset="0.5732" stop-color="#000" stop-opacity="0.8"/><stop offset="0.6463" stop-color="#000" stop-opacity="0.92"/><stop offset="0.7134" stop-color="#000" stop-opacity="0.85"/><stop offset="0.7439" stop-color="#000" stop-opacity="0.55"/><stop offset="0.7622" stop-color="#000" stop-opacity="0.6"/><stop offset="0.7927" stop-color="#000" stop-opacity="0.85"/><stop offset="0.8415" stop-color="#000" stop-opacity="0.8"/><stop offset="0.8780" stop-color="#000" stop-opacity="0.4"/><stop offset="0.9268" stop-color="#000" stop-opacity="0.1"/><stop offset="1.0000" stop-color="#000" stop-opacity="0"/></linearGradient></defs>
<rect x="387" y="322" width="27" height="82" fill="url(#g15)" filter="url(#b1)"/>
<circle cx="395" cy="333" r="2" fill="#c0c0c0" filter="url(#b1)"/>
<defs><linearGradient id="bx4" gradientUnits="userSpaceOnUse" x1="0" y1="313" x2="0" y2="439"><stop offset="0" stop-color="#666"/><stop offset="0.135" stop-color="#707070"/><stop offset="0.25" stop-color="#858585"/><stop offset="0.37" stop-color="#9c9c9c"/><stop offset="0.49" stop-color="#adadad"/><stop offset="0.595" stop-color="#c8c8c8"/><stop offset="0.675" stop-color="#e0e0e0"/><stop offset="1" stop-color="#e8e8e8"/></linearGradient></defs>
<rect x="419" y="313" width="62" height="126" fill="url(#bx4)"/>
<defs><linearGradient id="g16" gradientUnits="userSpaceOnUse" x1="0" y1="335" x2="0" y2="400"><stop offset="0.0000" stop-color="#fff" stop-opacity="0"/><stop offset="0.1538" stop-color="#fff" stop-opacity="0.22"/><stop offset="0.3077" stop-color="#fff" stop-opacity="0.38"/><stop offset="0.4462" stop-color="#fff" stop-opacity="0.45"/><stop offset="0.5385" stop-color="#000" stop-opacity="0.05"/><stop offset="0.6308" stop-color="#fff" stop-opacity="0.4"/><stop offset="0.7692" stop-color="#fff" stop-opacity="0.3"/><stop offset="0.8769" stop-color="#fff" stop-opacity="0.15"/><stop offset="1.0000" stop-color="#fff" stop-opacity="0"/></linearGradient></defs>
<rect x="420" y="335" width="25" height="65" fill="url(#g16)" filter="url(#b2)"/>
<defs><linearGradient id="g17" gradientUnits="userSpaceOnUse" x1="0" y1="322" x2="0" y2="391"><stop offset="0.0000" stop-color="#000" stop-opacity="0"/><stop offset="0.0870" stop-color="#000" stop-opacity="0.1"/><stop offset="0.1304" stop-color="#000" stop-opacity="0.15"/><stop offset="0.2029" stop-color="#fff" stop-opacity="0.1"/><stop offset="0.2899" stop-color="#fff" stop-opacity="0.3"/><stop offset="0.3768" stop-color="#000" stop-opacity="0.22"/><stop offset="0.4348" stop-color="#000" stop-opacity="0.42"/><stop offset="0.5072" stop-color="#fff" stop-opacity="0.15"/><stop offset="0.5797" stop-color="#fff" stop-opacity="0.35"/><stop offset="0.6522" stop-color="#000" stop-opacity="0.35"/><stop offset="0.7101" stop-color="#000" stop-opacity="0.65"/><stop offset="0.7681" stop-color="#fff" stop-opacity="0.2"/><stop offset="0.7971" stop-color="#fff" stop-opacity="0.4"/><stop offset="0.8406" stop-color="#000" stop-opacity="0.5"/><stop offset="0.8841" stop-color="#000" stop-opacity="0.55"/><stop offset="0.9420" stop-color="#000" stop-opacity="0.1"/><stop offset="1.0000" stop-color="#000" stop-opacity="0"/></linearGradient></defs>
<rect x="444" y="322" width="28" height="69" fill="url(#g17)" filter="url(#b1)"/>
<defs><linearGradient id="g18" gradientUnits="userSpaceOnUse" x1="0" y1="362" x2="0" y2="382"><stop offset="0.0000" stop-color="#000" stop-opacity="0"/><stop offset="0.3000" stop-color="#000" stop-opacity="0.3"/><stop offset="0.6000" stop-color="#000" stop-opacity="0.1"/><stop offset="1.0000" stop-color="#000" stop-opacity="0"/></linearGradient></defs>
<rect x="468" y="362" width="12" height="20" fill="url(#g18)" filter="url(#b2)"/>
<defs><linearGradient id="g19" gradientUnits="userSpaceOnUse" x1="0" y1="313" x2="0" y2="410"><stop offset="0.0000" stop-color="#000" stop-opacity="0.05"/><stop offset="0.2784" stop-color="#000" stop-opacity="0.12"/><stop offset="0.8454" stop-color="#000" stop-opacity="0.15"/><stop offset="1.0000" stop-color="#000" stop-opacity="0"/></linearGradient></defs>
<rect x="470" y="313" width="10" height="97" fill="url(#g19)" filter="url(#b2)"/>
<circle cx="471.3" cy="426.6" r="2.2" fill="#111" filter="url(#b05)"/>
</g>
<rect x="413" y="313.9" width="6" height="124.8" fill="#fff"/>
<rect x="39" y="314" width="93.30000000000001" height="125" fill="none" stroke="#3a3a3a" stroke-width="1.2"/>
<rect x="141.3" y="313.8" width="106.19999999999999" height="125.0" fill="none" stroke="#3a3a3a" stroke-width="1.2"/>
<rect x="257" y="313.8" width="117.30000000000001" height="123.69999999999999" fill="none" stroke="#3a3a3a" stroke-width="1.2"/>
<rect x="383.5" y="313.9" width="96.19999999999999" height="124.80000000000001" fill="none" stroke="#3a3a3a" stroke-width="1.2"/>
<text transform="translate(63.7,310.2) rotate(-90)" font-size="11" fill="#b8323a" stroke="#b8323a" stroke-width="0.2">2120-pd</text>
<text transform="translate(154.4,310.2) rotate(-90)" font-size="11" fill="#2a2ac4" stroke="#2a2ac4" stroke-width="0.2">3297-pd</text>
<text transform="translate(273.4,310.2) rotate(-90)" font-size="11" fill="#7a9a56" stroke="#7a9a56" stroke-width="0.2">3431-pd</text>
<text transform="translate(400.8,310.2) rotate(-90)" font-size="11" fill="#d6a05c" stroke="#d6a05c" stroke-width="0.2">3490-pd</text>
<text transform="translate(96.6,310.2) rotate(-90)" font-size="11" fill="#111" stroke="#111" stroke-width="0.2">6837</text>
<text transform="translate(121,310.2) rotate(-90)" font-size="11" fill="#111" stroke="#111" stroke-width="0.2">6838</text>
<text transform="translate(185.6,310.2) rotate(-90)" font-size="11" fill="#111" stroke="#111" stroke-width="0.2">6840</text>
<text transform="translate(209,310.2) rotate(-90)" font-size="11" fill="#111" stroke="#111" stroke-width="0.2">6841</text>
<text transform="translate(237.6,310.2) rotate(-90)" font-size="11" fill="#111" stroke="#111" stroke-width="0.2">6842</text>
<text transform="translate(308.4,310.2) rotate(-90)" font-size="11" fill="#111" stroke="#111" stroke-width="0.2">6856</text>
<text transform="translate(332.8,310.2) rotate(-90)" font-size="11" fill="#111" stroke="#111" stroke-width="0.2">6857</text>
<text transform="translate(364,310.2) rotate(-90)" font-size="11" fill="#111" stroke="#111" stroke-width="0.2">6858</text>
<text transform="translate(437.8,310.2) rotate(-90)" font-size="11" fill="#111" stroke="#111" stroke-width="0.2">6866</text>
<text transform="translate(461.6,310.2) rotate(-90)" font-size="11" fill="#111" stroke="#111" stroke-width="0.2">6867</text>
<text x="106" y="277.9" font-size="12" text-anchor="middle" fill="#111" stroke="#111" stroke-width="0.2">sr</text>
<path d="M88.7 280.2 H124.3" stroke="#000" stroke-width="1.8"/>
<text x="204.3" y="277.9" font-size="12" text-anchor="middle" fill="#111" stroke="#111" stroke-width="0.2">sr</text>
<path d="M173 280.2 H237.5" stroke="#000" stroke-width="1.8"/>
<text x="326.3" y="277.9" font-size="12" text-anchor="middle" fill="#111" stroke="#111" stroke-width="0.2">sr</text>
<path d="M294.5 280.2 H358" stroke="#000" stroke-width="1.8"/>
<text x="443.8" y="277.9" font-size="12" text-anchor="middle" fill="#111" stroke="#111" stroke-width="0.2">sr</text>
<path d="M427 280.2 H462" stroke="#000" stroke-width="1.8"/>
<defs><clipPath id="cc"><rect x="154.8" y="469.8" width="241.0" height="215.99999999999994"/></clipPath></defs>
<g clip-path="url(#cc)" fill="none">
<path d="M157.20 436.20 L196.20 685.80" stroke="#505050" stroke-width="1.4"/>
<path d="M160.16 436.20 L181.40 685.80" stroke="#3a3a3a" stroke-width="1.5" stroke-dasharray="2.3,2.3"/>
<path d="M151.64 436.20 L224.00 685.80" stroke="#3a3a3a" stroke-width="1.5" stroke-dasharray="2.3,2.3"/>
<path d="M117.28 436.20 L395.80 685.80" stroke="#cf3a3a" stroke-width="1.3"/>
<path d="M117.28 458.44 L395.80 574.60" stroke="#c86666" stroke-width="1.3" stroke-dasharray="2.2,2.2"/>
<path d="M142.04 436.20 L272.00 685.80" stroke="#c86666" stroke-width="1.3" stroke-dasharray="2.2,2.2"/>
</g>
<circle cx="275" cy="477.6" r="2.1" fill="none" stroke="#cf3a3a" stroke-width="0.9"/>
<circle cx="185.8" cy="533.8" r="2.1" fill="none" stroke="#cf3a3a" stroke-width="0.9"/>
<circle cx="208.3" cy="547" r="2.1" fill="none" stroke="#cf3a3a" stroke-width="0.9"/>
<path d="M172.4 503.5 H177.2 L174.8 499.4Z" fill="none" stroke="#cf3a3a" stroke-width="0.9"/>
<path d="M385.0 532.7 H389.8 L387.4 536.8Z" fill="none" stroke="#cf3a3a" stroke-width="0.9"/>
<path d="M385.1 587.3 H389.9 L387.5 591.4Z" fill="none" stroke="#333" stroke-width="0.9"/>
<path d="M272.6 664.3 H277.4 L275.0 668.4Z" fill="none" stroke="#333" stroke-width="0.9"/>
<path d="M183.4 676.3 H188.2 L185.8 680.4Z" fill="none" stroke="#333" stroke-width="0.9"/>
<path d="M206.2 675.8 H211.0 L208.6 679.9Z" fill="none" stroke="#333" stroke-width="0.9"/>
<path d="M163.4 487.8 H168.2 L165.8 491.9Z" fill="none" stroke="#333" stroke-width="0.9"/>
<circle cx="166.5" cy="491.5" r="1.8" fill="none" stroke="#333" stroke-width="0.9"/>
<path d="M163.1 494.2 H167.9 L165.5 490.1Z" fill="none" stroke="#555" stroke-width="0.9"/>
<rect x="154.8" y="469.8" width="241.0" height="215.99999999999994" fill="none" stroke="#000" stroke-width="1.4"/>
<g stroke="#000" stroke-width="1.1">
<path d="M150.5 477.8 H154.8"/>
<path d="M150.5 518.2 H154.8"/>
<path d="M150.5 558.7 H154.8"/>
<path d="M150.5 599.1 H154.8"/>
<path d="M150.5 639.6 H154.8"/>
<path d="M150.5 680.0 H154.8"/>
<path d="M163.7 685.8 V690.2"/>
<path d="M208.3 685.8 V690.2"/>
<path d="M252.9 685.8 V690.2"/>
<path d="M297.5 685.8 V690.2"/>
<path d="M342.1 685.8 V690.2"/>
<path d="M386.7 685.8 V690.2"/>
</g>
<text transform="translate(144.2,480.0) rotate(-90) scale(1,0.9)" font-size="11.4" text-anchor="middle" fill="#111" stroke="#111" stroke-width="0.2">0.0</text>
<text transform="translate(144.2,519.5) rotate(-90) scale(1,0.9)" font-size="11.4" text-anchor="middle" fill="#111" stroke="#111" stroke-width="0.2">−0.5</text>
<text transform="translate(144.2,559.9) rotate(-90) scale(1,0.9)" font-size="11.4" text-anchor="middle" fill="#111" stroke="#111" stroke-width="0.2">−1.0</text>
<text transform="translate(144.2,600.4) rotate(-90) scale(1,0.9)" font-size="11.4" text-anchor="middle" fill="#111" stroke="#111" stroke-width="0.2">−1.5</text>
<text transform="translate(144.2,640.8) rotate(-90) scale(1,0.9)" font-size="11.4" text-anchor="middle" fill="#111" stroke="#111" stroke-width="0.2">−2.0</text>
<text transform="translate(144.2,681.2) rotate(-90) scale(1,0.9)" font-size="11.4" text-anchor="middle" fill="#111" stroke="#111" stroke-width="0.2">−2.5</text>
<text transform="translate(121.8,578.8) rotate(-90) scale(1,0.86)" font-size="12.6" text-anchor="middle" fill="#111" stroke="#111" stroke-width="0.2">log fraction nonresponding</text>
<text x="163.7" y="701.3" font-size="10.8" text-anchor="middle" fill="#111" stroke="#111" stroke-width="0.2">0e+00</text>
<text x="208.3" y="701.3" font-size="10.8" text-anchor="middle" fill="#111" stroke="#111" stroke-width="0.2">2e+05</text>
<text x="252.9" y="701.3" font-size="10.8" text-anchor="middle" fill="#111" stroke="#111" stroke-width="0.2">4e+05</text>
<text x="297.5" y="701.3" font-size="10.8" text-anchor="middle" fill="#111" stroke="#111" stroke-width="0.2">6e+05</text>
<text x="342.1" y="701.3" font-size="10.8" text-anchor="middle" fill="#111" stroke="#111" stroke-width="0.2">8e+05</text>
<text x="386.7" y="701.3" font-size="10.8" text-anchor="middle" fill="#111" stroke="#111" stroke-width="0.2">1e+06</text>
<text x="275.3" y="717.4" font-size="13" text-anchor="middle" fill="#111" stroke="#111" stroke-width="0.2">dose (number of cells)</text>
<rect x="305.2" y="479.4" width="74.8" height="27.9" fill="#fff" stroke="#333" stroke-width="0.9"/>
<text x="311.2" y="492" font-size="9.6" fill="#222" stroke="#222" stroke-width="0.2">Group Ap2a2</text>
<text x="311.2" y="503.7" font-size="9.6" fill="#c44a4a" stroke="#c44a4a" stroke-width="0.2">Group Vector</text>
<g fill="none">
<path d="M62.4 818.1 H245.5" stroke="#444" stroke-width="1.3" stroke-dasharray="2.8,2.2"/>
<path d="M62.4 872.8 H245.5" stroke="#444" stroke-width="1.3" stroke-dasharray="2.8,2.2"/>
<rect x="62.4" y="763.3" width="183.1" height="164.70000000000005" stroke="#111" stroke-width="1.3"/>
<path d="M77.6 928.0 V925.6" stroke="#111" stroke-width="1.5"/>
<path d="M92.9 928.0 V925.6" stroke="#111" stroke-width="1.5"/>
<path d="M108.1 928.0 V925.6" stroke="#111" stroke-width="1.5"/>
<path d="M123.4 928.0 V925.6" stroke="#111" stroke-width="1.5"/>
<path d="M138.6 928.0 V925.6" stroke="#111" stroke-width="1.5"/>
<path d="M153.9 928.0 V925.6" stroke="#111" stroke-width="1.5"/>
<path d="M169.2 928.0 V925.6" stroke="#111" stroke-width="1.5"/>
<path d="M184.4 928.0 V925.6" stroke="#111" stroke-width="1.5"/>
<path d="M199.7 928.0 V925.6" stroke="#111" stroke-width="1.5"/>
<path d="M214.9 928.0 V925.6" stroke="#111" stroke-width="1.5"/>
<path d="M230.2 928.0 V925.6" stroke="#111" stroke-width="1.5"/>
</g>
<text x="49" y="767.2" font-size="10.8" text-anchor="middle" fill="#111" stroke="#111" stroke-width="0.2">100</text>
<text x="49" y="821.9" font-size="10.8" text-anchor="middle" fill="#111" stroke="#111" stroke-width="0.2">10</text>
<text x="49" y="876.6" font-size="10.8" text-anchor="middle" fill="#111" stroke="#111" stroke-width="0.2">1</text>
<text x="49" y="931.3" font-size="10.8" text-anchor="middle" fill="#111" stroke="#111" stroke-width="0.2">0.1</text>
<path d="M139.2 871.6 V878.2 M137.7 871.6 H140.7 M137.7 878.2 H140.7" stroke="#111" stroke-width="1.3" fill="none"/>
<path d="M139.2 874.4 L169.2 870.8 L199.3 872.4 L230.0 870.8" stroke="#5f7de4" stroke-width="3.2" fill="none" stroke-linejoin="round"/>
<circle cx="139.2" cy="874.4" r="2" fill="#223"/>
<path d="M77.6 872.8 L108.5 872.8 L138.8 802.6 L169.2 795.0 L199.7 778.8 L230.4 778.2" stroke="#b5321f" stroke-width="3.3" fill="none" stroke-linejoin="round"/>
<path d="M77.6 865.8 V881.5 M76.1 865.8 H79.1 M76.1 881.5 H79.1" stroke="#111" stroke-width="1.3" fill="none"/>
<path d="M108.5 868.8 V877.4 M107.0 868.8 H110.0 M107.0 877.4 H110.0" stroke="#111" stroke-width="1.3" fill="none"/>
<path d="M138.8 795.7 V812.3 M137.3 795.7 H140.3 M137.3 812.3 H140.3" stroke="#111" stroke-width="1.3" fill="none"/>
<path d="M169.2 786.9 V808.4 M167.7 786.9 H170.7 M167.7 808.4 H170.7" stroke="#111" stroke-width="1.3" fill="none"/>
<path d="M199.7 773.8 V784.6 M198.2 773.8 H201.2 M198.2 784.6 H201.2" stroke="#111" stroke-width="1.3" fill="none"/>
<path d="M230.4 771.2 V788.0 M228.9 771.2 H231.9 M228.9 788.0 H231.9" stroke="#111" stroke-width="1.3" fill="none"/>
<text x="138.8" y="792.9" font-size="7" text-anchor="middle" fill="#111" stroke="#111" stroke-width="0.2">*</text>
<text x="169.2" y="786.0" font-size="7" text-anchor="middle" fill="#111" stroke="#111" stroke-width="0.2">*</text>
<text x="199.7" y="772.8" font-size="7" text-anchor="middle" fill="#111" stroke="#111" stroke-width="0.2">*</text>
<path d="M74.9 773.7 H89.7" stroke="#b5321f" stroke-width="3.4"/>
<path d="M74.9 783.8 H89.7" stroke="#2a4ee0" stroke-width="3.4"/>
<text x="93.3" y="777.2" font-size="9.7" fill="#111" stroke="#111" stroke-width="0.2">Ap2a2</text>
<text x="93.3" y="787.4" font-size="9.7" fill="#b8323a" stroke="#b8323a" stroke-width="0.2">Vector</text>
<text x="77.6" y="940.6" font-size="10.8" text-anchor="middle" fill="#111" stroke="#111" stroke-width="0.2">20</text>
<text x="108.1" y="940.6" font-size="10.8" text-anchor="middle" fill="#111" stroke="#111" stroke-width="0.2">50</text>
<text x="138.6" y="940.6" font-size="10.8" text-anchor="middle" fill="#111" stroke="#111" stroke-width="0.2">100</text>
<text x="169.2" y="940.6" font-size="10.8" text-anchor="middle" fill="#111" stroke="#111" stroke-width="0.2">200</text>
<text x="199.7" y="940.6" font-size="10.8" text-anchor="middle" fill="#111" stroke="#111" stroke-width="0.2">500</text>
<text x="230.2" y="940.6" font-size="10.8" text-anchor="middle" fill="#111" stroke="#111" stroke-width="0.2">1,000</text>
<text transform="translate(152.8,957) scale(1,1.13)" font-size="11" text-anchor="middle" fill="#111" stroke="#111" stroke-width="0.2">Transplanted CD45.2 donor cells x1000</text>
<text transform="translate(19,848.6) rotate(-90)" font-size="12.6" text-anchor="middle" fill="#111" stroke="#111" stroke-width="0.2">% CD45.2 Donor derived</text>
<text transform="translate(31.6,850) rotate(-90)" font-size="12.6" text-anchor="middle" fill="#111" stroke="#111" stroke-width="0.2">reconstitution</text>
<g fill="none">
<path d="M326.3 892.1 H509.4" stroke="#222" stroke-width="1.2" stroke-dasharray="4,2.6"/>
<path d="M326.3 866.2 H509.4" stroke="#222" stroke-width="1.2" stroke-dasharray="4,2.6"/>
<path d="M326.3 840.2 H509.4" stroke="#222" stroke-width="1.2" stroke-dasharray="4,2.6"/>
<path d="M326.3 814.3 H509.4" stroke="#222" stroke-width="1.2" stroke-dasharray="4,2.6"/>
<path d="M326.3 788.3 H509.4" stroke="#222" stroke-width="1.2" stroke-dasharray="4,2.6"/>
<path d="M326.3 776.3 V918.1 H509.4" stroke="#111" stroke-width="1.3"/>
</g>
<rect x="358.5" y="865.1" width="36.9" height="53" fill="#262626"/>
<rect x="444.2" y="807.7" width="37" height="110.4" fill="#262626"/>
<path d="M375 865.1 V853.3 M373.5 853.3 H376.5 M461.5 807.7 V785 M460 785 H463" stroke="#222" stroke-width="1.2" fill="none"/>
<text x="461.5" y="784.8" font-size="17" text-anchor="middle" fill="#222" stroke="#222" stroke-width="0.2">*</text>
<text x="313" y="921.9" font-size="10.8" text-anchor="middle" fill="#111" stroke="#111" stroke-width="0.2">0</text>
<text x="313" y="895.9" font-size="10.8" text-anchor="middle" fill="#111" stroke="#111" stroke-width="0.2">0.2</text>
<text x="313" y="870.0" font-size="10.8" text-anchor="middle" fill="#111" stroke="#111" stroke-width="0.2">0.4</text>
<text x="313" y="844.0" font-size="10.8" text-anchor="middle" fill="#111" stroke="#111" stroke-width="0.2">0.6</text>
<text x="313" y="818.1" font-size="10.8" text-anchor="middle" fill="#111" stroke="#111" stroke-width="0.2">0.8</text>
<text x="313" y="792.1" font-size="10.8" text-anchor="middle" fill="#111" stroke="#111" stroke-width="0.2">1.0</text>
<text transform="translate(298,854.6) rotate(-90)" font-size="12.5" text-anchor="middle" fill="#111" stroke="#111" stroke-width="0.2">% LSK cells</text>
<text transform="translate(381.5,938.8) scale(1,1.13)" font-size="10.8" text-anchor="middle" fill="#111" stroke="#111" stroke-width="0.2">Recipient</text>
<text transform="translate(383,949.9) scale(1,1.15)" font-size="10.8" text-anchor="middle" fill="#111" stroke="#111" stroke-width="0.2">CD45.1-derived</text>
<text transform="translate(468,938.8) scale(1,1.13)" font-size="11" text-anchor="middle" fill="#111" stroke="#111" stroke-width="0.2">Donor</text>
<text transform="translate(474.2,949.6) scale(1,1.15)" font-size="10.8" text-anchor="middle" fill="#111" stroke="#111" stroke-width="0.2">CD 45.2-derived</text>
</svg>
</body></html>
